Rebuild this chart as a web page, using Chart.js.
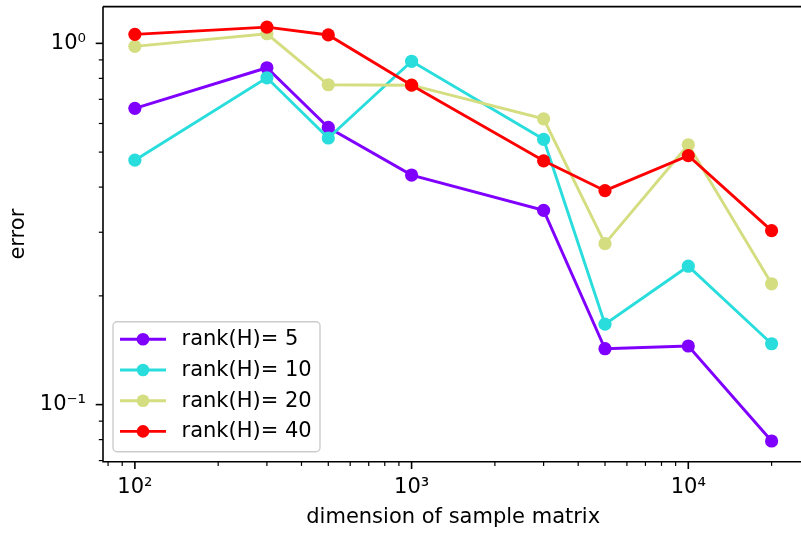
<!DOCTYPE html>
<html>
<head>
<meta charset="utf-8">
<script src="https://cdn.jsdelivr.net/npm/chart.js@4/dist/chart.umd.min.js"></script>
<style>
html, body { margin: 0; padding: 0; background: #fff; overflow: hidden; }
#wrap { width: 810px; height: 536px; }
</style>
</head>
<body>
<div id="wrap"><canvas id="c" width="810" height="536"></canvas></div>
<script>
// ---- data ----
const categories = [100, 300, 500, 1000, 3000, 5000, 10000, 20000];
const rank5  = [0.661, 0.856, 0.585, 0.432, 0.345, 0.1428, 0.1453, 0.0793];
const rank10 = [0.475, 0.803, 0.547, 0.892, 0.5425, 0.167, 0.2416, 0.1474];
const rank20 = [0.981, 1.063, 0.768, 0.766, 0.618, 0.279, 0.524, 0.216];
const rank40 = [1.059, 1.109, 1.055, 0.766, 0.473, 0.391, 0.489, 0.303];
const seriesLabels = ['rank(H)= 5', 'rank(H)= 10', 'rank(H)= 20', 'rank(H)= 40'];
const seriesColors = ['#8000ff', '#2adddd', '#d4dd80', '#ff0000'];
const xTicks = [80, 90, 100, 200, 300, 400, 500, 600, 700, 800, 900, 1000,
                2000, 3000, 4000, 5000, 6000, 7000, 8000, 9000, 10000, 20000];
const yTicks = [0.07, 0.08, 0.09, 0.1, 0.2, 0.3, 0.4, 0.5, 0.6, 0.7, 0.8, 0.9, 1];
const xLabel = 'dimension of sample matrix';
const yLabel = 'error';

const FONT_SIZE = 21;
const SUP = {'-': '\u207B', '0': '\u2070', '1': '\u00B9', '2': '\u00B2', '3': '\u00B3', '4': '\u2074'};
function isPow10(v) { const l = Math.log10(v); return Math.abs(l - Math.round(l)) < 1e-9; }
function powLabel(v) {
  if (!isPow10(v)) return '';
  const e = String(Math.round(Math.log10(v)));
  return '10' + e.split('').map(ch => SUP[ch]).join('');
}

const allSeries = [rank5, rank10, rank20, rank40];
const datasets = allSeries.map((arr, i) => ({
  label: seriesLabels[i],
  data: categories.map((x, j) => ({ x: x, y: arr[j] })),
  borderColor: seriesColors[i],
  backgroundColor: seriesColors[i],
  pointBackgroundColor: seriesColors[i],
  pointBorderColor: seriesColors[i],
  pointBorderWidth: 0,
  pointRadius: 6.6,
  borderWidth: 2.9,
  tension: 0,
  order: allSeries.length - i
}));

const framePlugin = {
  id: 'frame',
  afterDatasetsDraw(chart) {
    const { ctx, chartArea: a, scales } = chart;
    ctx.save();
    ctx.strokeStyle = '#000';
    ctx.lineCap = 'butt';
    // spines
    ctx.lineWidth = 1.6;
    ctx.beginPath();
    ctx.moveTo(a.left, a.top); ctx.lineTo(a.right, a.top);
    ctx.moveTo(a.left, a.top); ctx.lineTo(a.left, a.bottom); ctx.lineTo(a.right, a.bottom);
    ctx.moveTo(a.right, a.top); ctx.lineTo(a.right, a.bottom);
    ctx.stroke();
    // ticks
    xTicks.forEach(v => {
      const px = scales.x.getPixelForValue(v);
      const major = isPow10(v);
      ctx.lineWidth = major ? 1.6 : 1.2;
      ctx.beginPath();
      ctx.moveTo(px, a.bottom); ctx.lineTo(px, a.bottom + (major ? 7.3 : 4.2));
      ctx.stroke();
    });
    yTicks.forEach(v => {
      const py = scales.y.getPixelForValue(v);
      const major = isPow10(v);
      ctx.lineWidth = major ? 1.6 : 1.2;
      ctx.beginPath();
      ctx.moveTo(a.left, py); ctx.lineTo(a.left - (major ? 7.3 : 4.2), py);
      ctx.stroke();
    });
    // legend
    const bx = 113, by = 321.7, bw = 207, bh = 130, r = 4;
    ctx.beginPath();
    ctx.moveTo(bx + r, by);
    ctx.arcTo(bx + bw, by, bx + bw, by + bh, r);
    ctx.arcTo(bx + bw, by + bh, bx, by + bh, r);
    ctx.arcTo(bx, by + bh, bx, by, r);
    ctx.arcTo(bx, by, bx + bw, by, r);
    ctx.closePath();
    ctx.fillStyle = 'rgba(255,255,255,0.8)';
    ctx.fill();
    ctx.strokeStyle = '#cccccc';
    ctx.lineWidth = 1.4;
    ctx.stroke();
    const rowY0 = 339.3, rowDy = 30.7;
    chart.data.datasets.forEach((ds, i) => {
      const y = rowY0 + i * rowDy;
      ctx.strokeStyle = ds.borderColor;
      ctx.lineWidth = ds.borderWidth;
      ctx.beginPath();
      ctx.moveTo(120, y); ctx.lineTo(166, y);
      ctx.stroke();
      ctx.fillStyle = ds.borderColor;
      ctx.beginPath();
      ctx.arc(143, y, 6.3, 0, Math.PI * 2);
      ctx.fill();
      ctx.fillStyle = '#000';
      ctx.font = FONT_SIZE + 'px "DejaVu Sans"';
      ctx.textAlign = 'left';
      ctx.textBaseline = 'middle';
      ctx.fillText(ds.label, 181.5, y + 0.5);
    });
    ctx.restore();
  }
};

Chart.defaults.font.family = '"DejaVu Sans", sans-serif';
Chart.defaults.font.size = FONT_SIZE;
Chart.defaults.color = '#000';

new Chart(document.getElementById('c'), {
  type: 'line',
  data: { datasets: datasets },
  options: {
    responsive: false,
    animation: false,
    events: [],
    layout: { padding: { top: 3.7, right: 2, left: 0, bottom: 0 } },
    plugins: { legend: { display: false }, tooltip: { enabled: false } },
    scales: {
      x: {
        type: 'logarithmic',
        position: 'bottom',
        min: 76.7,
        max: 26060,
        grid: { display: false, drawTicks: false },
        border: { display: false },
        afterBuildTicks: (s) => { s.ticks = xTicks.map(v => ({ value: v })); },
        afterFit: (s) => { s.height = 74.3; s.paddingLeft = 0; s.paddingRight = 0; },
        ticks: {
          autoSkip: false, maxRotation: 0, minRotation: 0, padding: 13,
          font: { size: FONT_SIZE },
          callback: (v) => powLabel(v)
        },
        title: { display: true, text: xLabel, font: { size: FONT_SIZE }, padding: { top: 0, bottom: 5.4 } }
      },
      y: {
        type: 'logarithmic',
        position: 'left',
        min: 0.0695,
        max: 1.264,
        grid: { display: false, drawTicks: false },
        border: { display: false },
        afterBuildTicks: (s) => { s.ticks = yTicks.map(v => ({ value: v })); },
        afterFit: (s) => { s.width = 103; s.paddingTop = 0; s.paddingBottom = 0; },
        ticks: {
          autoSkip: false, padding: 17,
          font: { size: FONT_SIZE },
          callback: (v) => powLabel(v)
        },
        title: { display: true, text: yLabel, font: { size: FONT_SIZE }, padding: { top: 6.4, bottom: 0 } }
      }
    }
  },
  plugins: [framePlugin]
});
</script>
</body>
</html>
